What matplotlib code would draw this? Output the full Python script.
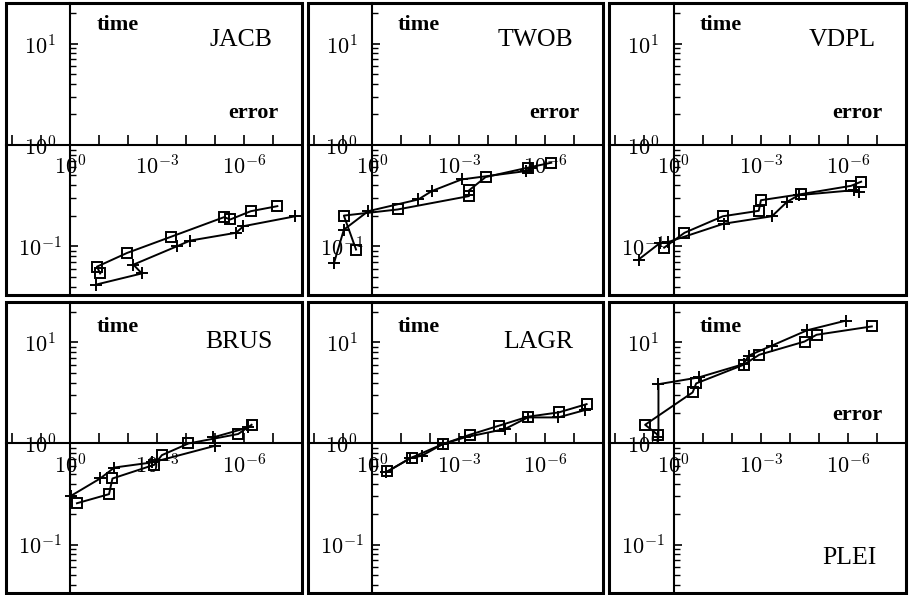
import numpy as np
import matplotlib
matplotlib.use("Agg")
from matplotlib import pyplot as plt
from matplotlib import ticker
from matplotlib.patches import Rectangle

plt.rcParams["font.family"] = ["Liberation Serif", "DejaVu Serif"]
plt.rcParams["mathtext.fontset"] = "cm"

# problem names, reading order (top row, then bottom row)
names = ["JACB", "TWOB", "VDPL", "BRUS", "LAGR", "PLEI"]

# --- JACB ---
jacb_plus_err = [1.26e-1, 3.4e-3, 6.6e-3, 2.1e-4, 7.2e-5, 1.9e-6, 1.05e-6, 1.7e-8]
jacb_plus_time = [0.042, 0.054, 0.066, 0.100, 0.114, 0.136, 0.158, 0.198]
jacb_sq_err = [9.3e-2, 1.2e-1, 1.1e-2, 3.4e-4, 4.9e-6, 3.0e-6, 5.9e-7, 7.1e-8]
jacb_sq_time = [0.054, 0.063, 0.086, 0.124, 0.194, 0.184, 0.222, 0.249]

# --- TWOB ---
twob_plus_err = [21.0, 9.5, 1.37, 2.5e-2, 8.5e-3, 7.9e-4, 4.6e-6, 3.2e-6]
twob_plus_time = [0.068, 0.146, 0.222, 0.290, 0.351, 0.457, 0.553, 0.59]
twob_sq_err = [3.6, 9.5, 0.13, 4.4e-4, 4.4e-4, 1.17e-4, 4.0e-6, 6.2e-7]
twob_sq_time = [0.093, 0.201, 0.231, 0.313, 0.356, 0.482, 0.597, 0.668]

# --- VDPL ---
vdpl_plus_err = [16.0, 2.9, 1.57, 1.9e-2, 4.1e-4, 1.23e-4, 4.9e-5, 6.2e-7, 4.2e-7]
vdpl_plus_time = [0.074, 0.108, 0.110, 0.167, 0.198, 0.275, 0.320, 0.358, 0.345]
vdpl_sq_err = [2.1, 0.42, 2.0e-2, 1.17e-3, 9.8e-4, 4.1e-5, 7.8e-7, 3.5e-7]
vdpl_sq_time = [0.097, 0.136, 0.198, 0.224, 0.285, 0.327, 0.395, 0.434]

# --- BRUS ---
brus_plus_err = [0.95, 9.3e-2, 3.0e-2, 1.5e-3, 1.0e-5, 1.15e-5, 7.1e-7]
brus_plus_time = [0.303, 0.450, 0.578, 0.649, 0.948, 1.15, 1.44]
brus_sq_err = [0.59, 4.6e-2, 3.5e-2, 1.26e-3, 6.9e-4, 8.3e-5, 1.6e-6, 5.5e-7]
brus_sq_time = [0.256, 0.315, 0.450, 0.615, 0.766, 1.0, 1.24, 1.53]

# --- LAGR ---
lagr_plus_err = [0.33, 4.8e-2, 1.9e-2, 3.6e-3, 6.0e-4, 2.5e-5, 4.0e-6, 3.6e-7, 4.2e-8]
lagr_plus_time = [0.516, 0.716, 0.755, 0.984, 1.15, 1.39, 1.81, 1.81, 2.14]
lagr_sq_err = [0.30, 4.2e-2, 3.6e-3, 4.1e-4, 4.0e-5, 4.0e-6, 3.4e-7, 3.7e-8]
lagr_sq_time = [0.528, 0.726, 0.984, 1.22, 1.50, 1.84, 2.03, 2.45]

# --- PLEI ---
plei_plus_err = [3.3, 3.3, 0.137, 3.9e-3, 2.6e-3, 4.1e-4, 2.5e-5, 1.2e-6]
plei_plus_time = [1.15, 3.86, 4.5, 6.1, 7.4, 9.3, 13.2, 16.4]
plei_sq_err = [3.5, 9.5, 0.22, 0.166, 3.9e-3, 1.12e-3, 3.1e-5, 1.2e-5, 1.5e-7]
plei_sq_time = [1.22, 1.53, 3.2, 3.93, 6.0, 7.55, 10.2, 11.9, 14.4]

panels = [
    (jacb_plus_err, jacb_plus_time, jacb_sq_err, jacb_sq_time),
    (twob_plus_err, twob_plus_time, twob_sq_err, twob_sq_time),
    (vdpl_plus_err, vdpl_plus_time, vdpl_sq_err, vdpl_sq_time),
    (brus_plus_err, brus_plus_time, brus_sq_err, brus_sq_time),
    (lagr_plus_err, lagr_plus_time, lagr_sq_err, lagr_sq_time),
    (plei_plus_err, plei_plus_time, plei_sq_err, plei_sq_time),
]

# panel boxes in pixels (left, top, width, height)
W, H = 909.0, 595.0
col_left = [6, 308, 609]
col_width = [296, 295, 297]
row_top = [3, 302]
row_height = [292, 291]


def xlabel_fmt(v, pos):
    e = int(round(np.log10(v)))
    if e in (0, -3, -6):
        return r"$\mathtt{10^{%d}}$" % e
    return ""


def ylabel_fmt(v, pos):
    e = int(round(np.log10(v)))
    return r"$\mathtt{10^{%d}}$" % e


fig = plt.figure(figsize=(W / 100, H / 100), dpi=100)

for i, (pe, pt, se, st) in enumerate(panels):
    r, c = divmod(i, 3)
    ax = fig.add_axes([col_left[c] / W,
                       (H - row_top[r] - row_height[r]) / H,
                       col_width[c] / W,
                       row_height[r] / H])
    ax.set_xscale("log")
    ax.set_yscale("log")
    ax.set_xlim(10 ** 2.22, 10 ** -8.0)
    ax.set_ylim(10 ** -1.48, 10 ** 1.40)

    ax.plot(pe, pt, "-", color="black", lw=1.4, marker="+", ms=9, mew=1.4)
    ax.plot(se, st, "-", color="black", lw=1.4, marker="s", ms=6.5,
            mew=1.4, mfc="none")

    # axes cross at error = 1, time = 1
    for s in ["top", "right"]:
        ax.spines[s].set_visible(False)
    ax.spines["left"].set_position(("data", 1.0))
    ax.spines["bottom"].set_position(("data", 1.0))
    ax.spines["left"].set_linewidth(1.5)
    ax.spines["bottom"].set_linewidth(1.5)
    ax.add_patch(Rectangle((0, 0), 1, 1, transform=ax.transAxes, fill=False,
                           lw=2.2, edgecolor="black", clip_on=False, zorder=5))

    ax.xaxis.set_major_locator(ticker.FixedLocator([10.0 ** k for k in range(2, -8, -1)]))
    ax.xaxis.set_major_formatter(ticker.FuncFormatter(xlabel_fmt))
    ax.xaxis.set_minor_locator(ticker.NullLocator())
    ax.tick_params(axis="x", which="major", direction="in", length=7, width=1.2,
                   pad=7, labelsize=16)

    ax.yaxis.set_major_locator(ticker.LogLocator(base=10))
    ax.yaxis.set_major_formatter(ticker.FuncFormatter(ylabel_fmt))
    ax.yaxis.set_minor_locator(ticker.LogLocator(base=10, subs=np.arange(2, 10)))
    ax.yaxis.set_minor_formatter(ticker.NullFormatter())
    ax.tick_params(axis="y", which="major", direction="in", length=6, width=1.2,
                   pad=22, labelsize=16)
    ax.tick_params(axis="y", which="minor", direction="in", length=4, width=1.0)
    for lab in ax.get_yticklabels():
        lab.set_ha("center")

    time_y = 0.925 if r == 0 else 0.914
    ax.text(0.305, time_y, "time", transform=ax.transAxes, fontsize=16,
            fontweight="bold", ha="left", va="center")
    if names[i] == "PLEI":
        ax.text(0.92, 0.612, "error", transform=ax.transAxes, fontsize=16,
                fontweight="bold", ha="right", va="center")
        ax.text(0.90, 0.12, names[i], transform=ax.transAxes, fontsize=18.5,
                ha="right", va="center")
    else:
        if r == 0:
            ax.text(0.92, 0.623, "error", transform=ax.transAxes, fontsize=16,
                    fontweight="bold", ha="right", va="center")
        ax.text(0.90, 0.873 if r == 0 else 0.863, names[i],
                transform=ax.transAxes, fontsize=18.5, ha="right", va="center")

fig.savefig("out.png", dpi=100)
